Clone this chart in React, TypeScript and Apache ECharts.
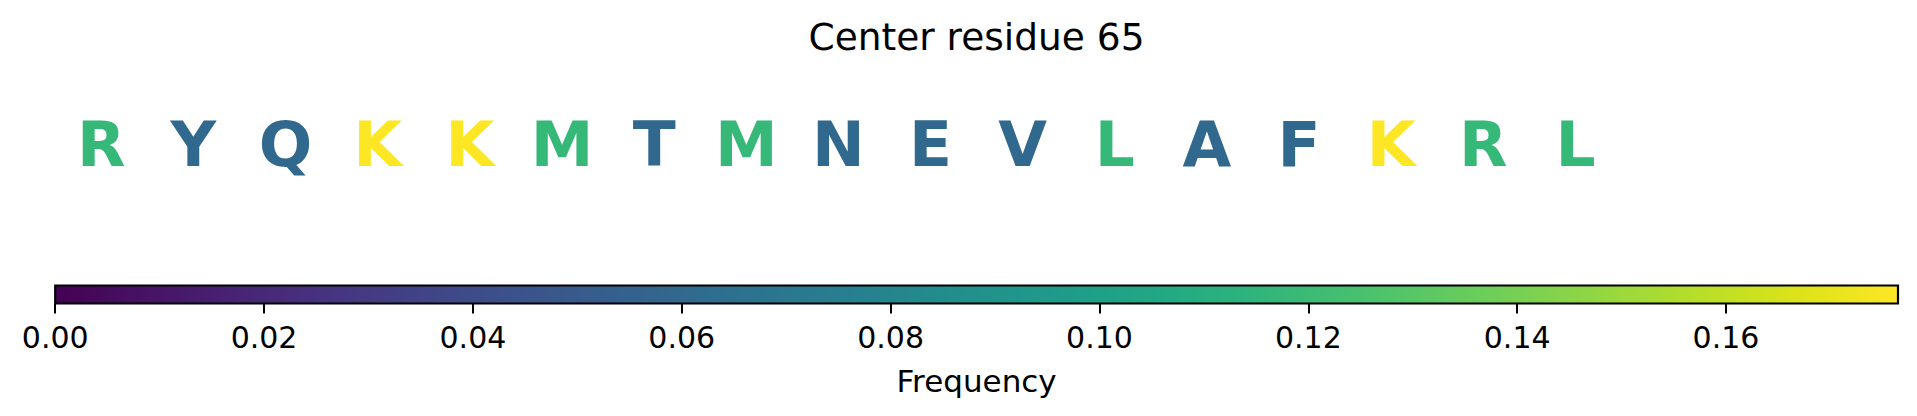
import React, { useEffect, useRef } from "react";
import * as echarts from "echarts";

const titleText = "Center residue 65";
const axisName = "Frequency";
const letters = ["R", "Y", "Q", "K", "K", "M", "T", "M", "N", "E", "V", "L", "A", "F", "K", "R", "L"];
const frequencies = [
  0.1176, 0.0588, 0.0588, 0.1765, 0.1765, 0.1176, 0.0588, 0.1176, 0.0588,
  0.0588, 0.0588, 0.1176, 0.0588, 0.0588, 0.1765, 0.1176, 0.1176,
];
const tickValues = [0, 0.02, 0.04, 0.06, 0.08, 0.1, 0.12, 0.14, 0.16];
const freqMin = 0;
const freqMax = 0.17647;
const slotMin = -0.5;
const slotMax = 19.5;
const rowValue = 0.5;
const viridis = [
  "#440154", "#471365", "#482475", "#463480", "#414487", "#3b528b", "#355f8d",
  "#2f6c8e", "#2a788e", "#25848e", "#21918c", "#1e9c89", "#22a884", "#2fb47c",
  "#44bf70", "#5ec962", "#7ad151", "#9bd93c", "#bddf26", "#dfe318", "#fde725",
];

const FONT = "DejaVu Sans";

export default function App() {
  const ref = useRef<HTMLDivElement>(null);

  useEffect(() => {
    if (!ref.current) return;
    const chart = echarts.init(ref.current, undefined, { renderer: "svg" });

    const gradient = new echarts.graphic.LinearGradient(
      0, 0, 1, 0,
      viridis.map((c, i) => ({ offset: i / (viridis.length - 1), color: c }))
    );

    const data = letters.map((l, i) => [i, rowValue, frequencies[i], l]);

    chart.setOption({
      animation: false,
      backgroundColor: "#ffffff",
      title: {
        text: titleText,
        left: 976.5,
        textAlign: "center",
        top: 17.5,
        padding: 0,
        textStyle: { fontSize: 37.5, fontWeight: "normal", color: "#000", fontFamily: FONT },
      },
      visualMap: {
        type: "continuous",
        show: false,
        min: freqMin,
        max: freqMax,
        dimension: 2,
        seriesIndex: 0,
        inRange: { color: viridis, opacity: 1 },
      },
      grid: [
        { left: 55.2, top: 104.2, width: 1842.8, height: 80, show: false },
        {
          left: 55.2,
          top: 285.5,
          width: 1842.8,
          height: 18,
          show: true,
          backgroundColor: gradient,
          borderColor: "#000",
          borderWidth: 2.2,
        },
      ],
      xAxis: [
        { gridIndex: 0, type: "value", min: slotMin, max: slotMax, show: false },
        {
          gridIndex: 1,
          type: "value",
          min: freqMin,
          max: freqMax,
          position: "bottom",
          axisLine: { show: false },
          splitLine: { show: false },
          axisTick: {
            show: true,
            customValues: tickValues,
            length: 10,
            lineStyle: { color: "#000", width: 2 },
          },
          axisLabel: {
            customValues: tickValues,
            formatter: (v: number) => v.toFixed(2),
            fontSize: 30,
            color: "#000",
            margin: 19,
            fontFamily: FONT,
          },
          name: axisName,
          nameLocation: "middle",
          nameGap: 61.5,
          nameTextStyle: { fontSize: 31, color: "#000", fontFamily: FONT },
        },
      ],
      yAxis: [
        { gridIndex: 0, type: "value", min: 0, max: 1, show: false },
        { gridIndex: 1, type: "value", min: 0, max: 1, show: false },
      ],
      series: [
        {
          type: "scatter",
          xAxisIndex: 0,
          yAxisIndex: 0,
          silent: true,
          symbol: "circle",
          symbolSize: 0,
          itemStyle: { opacity: 1 },
          data,
          label: {
            show: true,
            position: "inside",
            formatter: (p: any) => p.value[3],
            fontSize: 63,
            fontWeight: "bold",
            fontFamily: FONT,
            color: "inherit",
            opacity: 1,
          },
        },
      ],
    });

    return () => chart.dispose();
  }, []);

  return (
    <div
      ref={ref}
      style={{ position: "fixed", left: 0, top: 0, width: 1917, height: 416 }}
    />
  );
}
